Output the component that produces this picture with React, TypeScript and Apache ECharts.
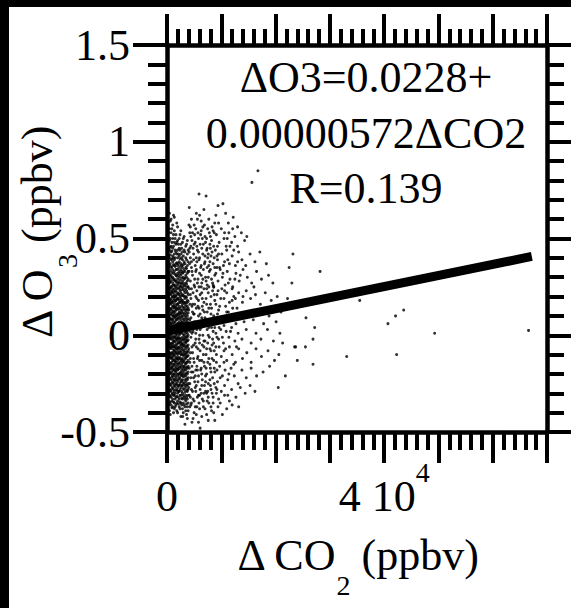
import React, { useEffect, useRef } from "react";
import * as echarts from "echarts";

// ---- axis ticks / labels ----
const yTickValues = [-0.5, 0, 0.5, 1, 1.5];
const yTickLabels = ["-0.5", "0", "0.5", "1", "1.5"];
const xLabelValues = [0, 40000];
const xLabelTexts = ["{a|0}", "{a|4 10}{s|4}"];

// ---- regression ----
const fitIntercept = 0.0228;
const fitSlope = 0.00000572;
const fitCO2Range = [300, 67200];
const annotationLines = ["\u0394O3=0.0228+", "0.00000572\u0394CO2", "R=0.139"];

// ---- dense core of the cloud: ΔCO2 columns (ppbv) and their ΔO3 values ----
const coreCO2 = [150, 450, 750, 1050, 1350, 1650, 1950, 2250, 2550, 2850, 3150, 3450, 3750];
const coreO3 = [
  [0.58, 0.51, 0.47, 0.42, 0.37, 0.33, 0.3, 0.26, 0.23, 0.2, 0.17, 0.15, 0.12, 0.1, 0.07, 0.05, 0.02, 0, -0.03, -0.05, -0.08, -0.1, -0.13, -0.16, -0.18, -0.21, -0.24, -0.27, -0.3, -0.34],
  [0.63, 0.55, 0.49, 0.44, 0.4, 0.36, 0.32, 0.29, 0.27, 0.24, 0.22, 0.19, 0.17, 0.14, 0.12, 0.09, 0.07, 0.04, 0.01, -0.01, -0.04, -0.06, -0.09, -0.11, -0.14, -0.16, -0.19, -0.22, -0.25, -0.28, -0.31, -0.35, -0.39],
  [0.6, 0.53, 0.46, 0.43, 0.39, 0.35, 0.31, 0.28, 0.25, 0.23, 0.21, 0.18, 0.16, 0.13, 0.11, 0.08, 0.06, 0.03, 0.02, 0, -0.02, -0.05, -0.07, -0.1, -0.12, -0.15, -0.17, -0.2, -0.23, -0.26, -0.29, -0.32, -0.36],
  [0.57, 0.5, 0.45, 0.41, 0.38, 0.34, 0.3, 0.27, 0.24, 0.22, 0.2, 0.17, 0.15, 0.12, 0.1, 0.08, 0.05, 0.03, 0.01, -0.02, -0.04, -0.06, -0.09, -0.11, -0.13, -0.16, -0.18, -0.21, -0.24, -0.27, -0.3, -0.33, -0.37],
  [0.61, 0.54, 0.48, 0.42, 0.39, 0.36, 0.33, 0.29, 0.26, 0.24, 0.21, 0.19, 0.16, 0.14, 0.11, 0.09, 0.06, 0.04, 0.01, -0.01, -0.03, -0.06, -0.08, -0.1, -0.13, -0.15, -0.18, -0.2, -0.23, -0.26, -0.29, -0.31, -0.35, -0.38],
  [0.52, 0.47, 0.43, 0.37, 0.34, 0.31, 0.28, 0.25, 0.23, 0.2, 0.18, 0.15, 0.13, 0.1, 0.08, 0.05, 0.03, 0, -0.02, -0.05, -0.07, -0.09, -0.12, -0.14, -0.17, -0.19, -0.22, -0.25, -0.28, -0.32, -0.36],
  [0.56, 0.49, 0.44, 0.4, 0.36, 0.32, 0.29, 0.26, 0.22, 0.19, 0.16, 0.14, 0.11, 0.09, 0.06, 0.04, 0.02, -0.01, -0.03, -0.06, -0.08, -0.11, -0.13, -0.16, -0.18, -0.21, -0.24, -0.27, -0.3, -0.34, -0.4],
  [0.5, 0.45, 0.41, 0.38, 0.33, 0.3, 0.27, 0.24, 0.21, 0.18, 0.15, 0.12, 0.1, 0.07, 0.05, 0.02, 0, -0.02, -0.04, -0.07, -0.09, -0.12, -0.15, -0.17, -0.2, -0.22, -0.26, -0.29, -0.33, -0.37],
  [0.54, 0.47, 0.42, 0.37, 0.34, 0.31, 0.27, 0.25, 0.22, 0.19, 0.17, 0.13, 0.11, 0.08, 0.06, 0.03, 0.01, -0.03, -0.05, -0.08, -0.1, -0.13, -0.16, -0.19, -0.21, -0.24, -0.27, -0.31, -0.35, -0.42],
  [0.48, 0.43, 0.39, 0.35, 0.32, 0.28, 0.25, 0.21, 0.18, 0.16, 0.13, 0.1, 0.07, 0.04, 0.02, -0.01, -0.04, -0.06, -0.09, -0.12, -0.14, -0.17, -0.2, -0.23, -0.26, -0.3, -0.33, -0.38],
  [0.51, 0.44, 0.38, 0.34, 0.29, 0.26, 0.23, 0.2, 0.17, 0.14, 0.11, 0.08, 0.05, 0.03, 0, -0.02, -0.05, -0.08, -0.1, -0.13, -0.16, -0.18, -0.21, -0.25, -0.28, -0.32, -0.36],
  [0.46, 0.4, 0.35, 0.31, 0.27, 0.24, 0.2, 0.17, 0.15, 0.12, 0.09, 0.06, 0.03, 0.01, -0.02, -0.04, -0.07, -0.1, -0.12, -0.15, -0.18, -0.21, -0.24, -0.27, -0.31, -0.34, -0.39],
  [0.49, 0.42, 0.36, 0.32, 0.28, 0.25, 0.22, 0.18, 0.15, 0.13, 0.1, 0.07, 0.04, 0.01, -0.01, -0.03, -0.06, -0.09, -0.11, -0.14, -0.17, -0.2, -0.23, -0.26, -0.29, -0.33, -0.37, -0.43],
];
const coreCO2b = [300, 600, 900, 1200, 1500, 1800, 2100, 2400, 2700, 3000, 3300, 3600, 3900];
const coreO3b = [
  [0.53, 0.45, 0.41, 0.38, 0.35, 0.32, 0.29, 0.265, 0.235, 0.205, 0.175, 0.155, 0.125, 0.095, 0.075, 0.045, 0.015, -0.005, -0.035, -0.055, -0.085, -0.105, -0.135, -0.155, -0.185, -0.205, -0.235, -0.265, -0.295, -0.32, -0.36],
  [0.59, 0.5, 0.455, 0.415, 0.37, 0.335, 0.305, 0.275, 0.245, 0.215, 0.185, 0.165, 0.135, 0.105, 0.085, 0.055, 0.035, 0.005, -0.015, -0.045, -0.065, -0.095, -0.115, -0.145, -0.175, -0.195, -0.225, -0.255, -0.285, -0.315, -0.345, -0.41],
  [0.55, 0.48, 0.435, 0.395, 0.355, 0.325, 0.295, 0.255, 0.225, 0.195, 0.17, 0.14, 0.115, 0.085, 0.065, 0.035, 0.01, -0.01, -0.04, -0.06, -0.09, -0.115, -0.14, -0.165, -0.19, -0.215, -0.245, -0.275, -0.305, -0.34, -0.375],
  [0.62, 0.52, 0.46, 0.4, 0.365, 0.32, 0.285, 0.26, 0.23, 0.2, 0.18, 0.15, 0.125, 0.1, 0.07, 0.045, 0.02, -0.005, -0.03, -0.05, -0.075, -0.1, -0.125, -0.15, -0.175, -0.2, -0.225, -0.25, -0.28, -0.31, -0.345, -0.4],
  [0.5, 0.44, 0.4, 0.355, 0.315, 0.28, 0.255, 0.225, 0.2, 0.175, 0.145, 0.12, 0.095, 0.07, 0.04, 0.015, -0.01, -0.035, -0.06, -0.085, -0.11, -0.135, -0.16, -0.185, -0.21, -0.235, -0.265, -0.3, -0.33, -0.37],
  [0.58, 0.48, 0.42, 0.375, 0.34, 0.305, 0.27, 0.24, 0.21, 0.185, 0.16, 0.135, 0.105, 0.08, 0.055, 0.025, 0.005, -0.02, -0.045, -0.07, -0.095, -0.12, -0.15, -0.175, -0.2, -0.23, -0.255, -0.285, -0.315, -0.35, -0.39],
  [0.47, 0.42, 0.37, 0.345, 0.31, 0.275, 0.245, 0.215, 0.19, 0.165, 0.135, 0.11, 0.085, 0.06, 0.03, 0.01, -0.015, -0.04, -0.065, -0.095, -0.12, -0.145, -0.175, -0.2, -0.23, -0.26, -0.29, -0.32, -0.355],
  [0.52, 0.44, 0.395, 0.355, 0.32, 0.285, 0.255, 0.23, 0.2, 0.17, 0.14, 0.115, 0.09, 0.06, 0.035, 0.01, -0.015, -0.035, -0.06, -0.085, -0.115, -0.14, -0.165, -0.195, -0.225, -0.25, -0.28, -0.31, -0.345, -0.38],
  [0.45, 0.4, 0.36, 0.33, 0.295, 0.265, 0.235, 0.205, 0.18, 0.15, 0.12, 0.095, 0.065, 0.04, 0.015, -0.02, -0.045, -0.07, -0.1, -0.125, -0.15, -0.18, -0.205, -0.235, -0.26, -0.29, -0.325, -0.36],
  [0.5, 0.41, 0.365, 0.325, 0.3, 0.27, 0.24, 0.205, 0.17, 0.145, 0.115, 0.085, 0.06, 0.03, 0.005, -0.025, -0.05, -0.075, -0.105, -0.135, -0.16, -0.19, -0.215, -0.245, -0.275, -0.31, -0.35, -0.4],
  [0.43, 0.37, 0.33, 0.295, 0.255, 0.22, 0.19, 0.16, 0.13, 0.1, 0.07, 0.045, 0.02, -0.01, -0.035, -0.06, -0.09, -0.115, -0.145, -0.17, -0.2, -0.23, -0.26, -0.295, -0.33, -0.37],
  [0.47, 0.39, 0.345, 0.3, 0.265, 0.23, 0.195, 0.165, 0.135, 0.11, 0.08, 0.05, 0.025, -0.005, -0.03, -0.055, -0.085, -0.11, -0.14, -0.165, -0.195, -0.225, -0.255, -0.285, -0.32, -0.355, -0.41],
  [0.44, 0.38, 0.33, 0.29, 0.25, 0.21, 0.175, 0.14, 0.115, 0.085, 0.055, 0.025, 0, -0.025, -0.05, -0.08, -0.105, -0.13, -0.16, -0.19, -0.22, -0.25, -0.28, -0.31, -0.35, -0.39],
];

// ---- main cloud, [ΔCO2 ppbv, ΔO3 ppbv] ----
const cloudPoints = [
  [4100, 0.66], [4500, 0.6], [5000, 0.57], [5400, 0.63], [5900, 0.73], [7200, 0.72], [6300, 0.59], [6800, 0.65], [7700, 0.6], [8300, 0.56], [9000, 0.62], [9400, 0.67], [10300, 0.68], [10800, 0.63], [11300, 0.58], [12200, 0.61], [13000, 0.56], [4300, 0.56], [8800, 0.58], [6000, 0.62],
  [4200, 0.53], [4600, 0.49], [5100, 0.52], [5500, 0.46], [5800, 0.5], [6300, 0.54], [6700, 0.47], [7000, 0.51], [7400, 0.45], [7800, 0.53], [8200, 0.49], [8600, 0.46], [9100, 0.52], [9600, 0.48], [10000, 0.55], [10500, 0.5], [10900, 0.46], [11400, 0.53], [11900, 0.48], [12500, 0.51], [13000, 0.46], [13700, 0.53], [14300, 0.49], [14700, 0.51], [4400, 0.46], [5300, 0.55], [6500, 0.5], [8000, 0.45], [9300, 0.46], [11100, 0.5], [12100, 0.55], [6100, 0.47], [7500, 0.55],
  [4100, 0.43], [4500, 0.38], [4900, 0.42], [5200, 0.36], [5600, 0.44], [5900, 0.39], [6200, 0.35], [6600, 0.42], [7000, 0.38], [7300, 0.44], [7700, 0.36], [8100, 0.41], [8500, 0.37], [8900, 0.44], [9300, 0.39], [9700, 0.35], [10100, 0.42], [10600, 0.38], [11000, 0.44], [11500, 0.37], [12000, 0.41], [12600, 0.36], [13200, 0.43], [13800, 0.39], [14500, 0.36], [15300, 0.42], [16200, 0.38], [17100, 0.43], [4300, 0.4], [5400, 0.4], [6400, 0.45], [7500, 0.4], [8700, 0.4], [10400, 0.36], [12300, 0.44], [18300, 0.37],
  [4000, 0.33], [4300, 0.28], [4700, 0.31], [5000, 0.26], [5400, 0.34], [5700, 0.29], [6000, 0.32], [6400, 0.27], [6700, 0.34], [7100, 0.3], [7400, 0.26], [7800, 0.33], [8200, 0.29], [8600, 0.25], [9000, 0.32], [9400, 0.28], [9800, 0.34], [10200, 0.3], [10700, 0.26], [11100, 0.33], [11600, 0.29], [12100, 0.25], [12700, 0.32], [13300, 0.28], [14000, 0.34], [14800, 0.3], [15600, 0.27], [16500, 0.33], [17400, 0.29], [18700, 0.31], [19500, 0.27], [4500, 0.35], [5900, 0.25], [7600, 0.3], [9200, 0.35], [11300, 0.27], [13500, 0.31], [16000, 0.25],
  [4100, 0.24], [4400, 0.19], [4800, 0.22], [5100, 0.16], [5500, 0.23], [5800, 0.18], [6100, 0.21], [6500, 0.15], [6800, 0.24], [7200, 0.19], [7600, 0.22], [8000, 0.16], [8400, 0.23], [8800, 0.18], [9200, 0.21], [9700, 0.15], [10100, 0.24], [10500, 0.19], [11000, 0.22], [11500, 0.17], [12000, 0.24], [12600, 0.19], [13200, 0.22], [13900, 0.17], [14600, 0.23], [15400, 0.19], [16300, 0.21], [17200, 0.16], [18100, 0.22], [19200, 0.18], [20300, 0.2], [4600, 0.15], [6300, 0.25], [8600, 0.25], [10800, 0.15], [12300, 0.2],
  [4000, 0.13], [4400, 0.09], [4700, 0.12], [5100, 0.07], [5400, 0.14], [5800, 0.1], [6200, 0.06], [6600, 0.13], [7000, 0.09], [7400, 0.12], [7800, 0.06], [8200, 0.14], [8600, 0.1], [9100, 0.07], [9500, 0.13], [10000, 0.09], [10500, 0.05], [11000, 0.12], [11500, 0.08], [12100, 0.14], [12700, 0.06], [13400, 0.11], [14200, 0.07], [15000, 0.12], [15900, 0.08], [16800, 0.13], [17800, 0.06], [18800, 0.1], [20100, 0.07], [21000, 0.12],
  [4100, 0.04], [4400, -0.01], [4800, 0.02], [5200, -0.04], [5500, 0.03], [5900, -0.02], [6300, 0.04], [6600, 0], [7000, -0.03], [7400, 0.03], [7800, -0.01], [8200, 0.04], [8600, -0.04], [9000, 0.01], [9500, -0.02], [9900, 0.03], [10400, -0.04], [10900, 0.02], [11400, -0.01], [11900, 0.04], [12500, -0.03], [13100, 0.01], [13800, -0.02], [14600, 0.03], [15500, -0.04], [16400, 0.01], [17300, -0.02], [18500, 0.03], [19600, -0.03], [20800, 0.01], [21300, -0.04],
  [4000, -0.07], [4300, -0.12], [4700, -0.09], [5000, -0.14], [5400, -0.06], [5700, -0.11], [6100, -0.08], [6400, -0.13], [6800, -0.06], [7200, -0.1], [7500, -0.14], [7900, -0.07], [8300, -0.12], [8700, -0.08], [9100, -0.14], [9600, -0.06], [10000, -0.11], [10500, -0.08], [11000, -0.13], [11500, -0.06], [12000, -0.1], [12600, -0.14], [13200, -0.07], [13900, -0.12], [14700, -0.09], [15500, -0.14], [16400, -0.07], [17400, -0.11], [18600, -0.08], [19800, -0.13],
  [4100, -0.17], [4400, -0.22], [4800, -0.19], [5100, -0.24], [5500, -0.16], [5800, -0.21], [6200, -0.18], [6500, -0.23], [6900, -0.16], [7300, -0.2], [7600, -0.25], [8000, -0.17], [8400, -0.22], [8800, -0.19], [9300, -0.24], [9700, -0.16], [10200, -0.21], [10700, -0.18], [11200, -0.23], [11800, -0.17], [12400, -0.21], [13100, -0.25], [13800, -0.18], [14600, -0.22], [15500, -0.17], [16500, -0.21], [17700, -0.19], [18900, -0.16],
  [4000, -0.27], [4300, -0.32], [4700, -0.29], [5000, -0.34], [5400, -0.26], [5800, -0.31], [6100, -0.28], [6500, -0.33], [6900, -0.26], [7300, -0.3], [7700, -0.35], [8100, -0.28], [8500, -0.32], [9000, -0.27], [9500, -0.33], [10000, -0.29], [10600, -0.26], [11200, -0.31], [11900, -0.28], [12700, -0.32], [13500, -0.27], [14400, -0.3], [15300, -0.26], [16200, -0.29],
  [4200, -0.37], [4600, -0.45], [5000, -0.4], [5500, -0.37], [6100, -0.48], [6400, -0.42], [7000, -0.38], [7600, -0.44], [8200, -0.39], [8800, -0.44], [9400, -0.37], [10200, -0.41], [11000, -0.38], [12000, -0.36], [2900, -0.42], [3300, -0.46], [13200, -0.37],
];

// ---- extra density just right of the core ----
const innerPoints = [
  [4200, 0.45], [4900, 0.39], [5300, 0.33], [5600, 0.27], [6000, 0.4], [6300, 0.31], [6900, 0.37], [7200, 0.28], [7600, 0.42], [8000, 0.34], [8400, 0.27], [8800, 0.31], [9200, 0.41],
  [4300, 0.21], [4700, 0.16], [5100, 0.25], [5500, 0.19], [5900, 0.14], [6400, 0.22], [6800, 0.17], [7300, 0.24], [7700, 0.14], [8100, 0.2], [8500, 0.26], [9000, 0.16], [9400, 0.23],
  [4200, 0.08], [4600, 0.01], [5000, 0.11], [5300, -0.02], [5700, 0.06], [6000, 0.0], [6400, 0.09], [6800, -0.03], [7200, 0.05], [7600, 0.0], [8000, 0.08], [8400, -0.02], [8800, 0.04], [9200, -0.01],
  [4300, -0.09], [4600, -0.16], [4900, -0.05], [5300, -0.18], [5600, -0.12], [6000, -0.04], [6300, -0.17], [6700, -0.1], [7100, -0.21], [7500, -0.04], [7900, -0.15], [8300, -0.05], [8700, -0.17], [9100, -0.1],
  [4200, -0.25], [4500, -0.28], [4900, -0.22], [5300, -0.29], [5700, -0.24], [6000, -0.31], [6400, -0.26], [6800, -0.3], [7100, -0.24], [7500, -0.29], [7900, -0.23], [8300, -0.3], [8700, -0.25], [9100, -0.3],
  [4500, -0.35], [5200, -0.37], [5900, -0.35], [6700, -0.37], [7400, -0.34], [8100, -0.37], [4400, 0.51], [5000, 0.47], [5700, 0.53], [6600, 0.56], [7100, 0.48], [8000, 0.51], [8700, 0.53],
  [4050, 0.57], [4700, 0.53], [5200, 0.48], [5600, 0.6], [6200, 0.52], [6900, 0.57], [7300, 0.5], [7900, 0.47], [8500, 0.54], [9500, 0.58], [10600, 0.53], [11600, 0.46],
  [4150, 0.37], [4600, 0.33], [4800, 0.45], [5100, 0.29], [5500, 0.38], [5800, 0.43], [6300, 0.36], [6600, 0.29], [7000, 0.41], [7400, 0.35], [7900, 0.38], [8300, 0.43], [8800, 0.35], [9500, 0.42], [10300, 0.32], [11200, 0.39], [12500, 0.29], [13000, 0.38],
  [4200, 0.16], [4500, 0.24], [4900, 0.11], [5300, 0.2], [5700, 0.15], [6100, 0.11], [6500, 0.19], [6900, 0.12], [7300, 0.16], [7700, 0.25], [8100, 0.11], [8700, 0.21], [9300, 0.11], [9900, 0.19], [10600, 0.23], [11300, 0.12], [12000, 0.18], [12900, 0.14], [14000, 0.2],
  [4300, 0.02], [4600, -0.06], [4900, 0.06], [5300, 0.01], [5700, -0.07], [6100, 0.03], [6500, -0.05], [6900, 0.07], [7300, -0.07], [7700, 0.04], [8100, -0.08], [8500, 0.02], [9000, -0.06], [9600, 0.04], [10200, -0.01], [10800, -0.07], [11700, 0.02], [12800, -0.06],
  [4200, -0.14], [4500, -0.19], [4900, -0.12], [5200, -0.21], [5600, -0.18], [6000, -0.13], [6400, -0.2], [6800, -0.14], [7200, -0.17], [7700, -0.12], [8100, -0.19], [8600, -0.13], [9200, -0.18], [9800, -0.22], [10500, -0.14], [11400, -0.2], [12300, -0.15],
  [4100, -0.31], [4400, -0.36], [4800, -0.33], [5200, -0.27], [5600, -0.32], [6000, -0.38], [6300, -0.3], [6700, -0.34], [7100, -0.29], [7600, -0.32], [8000, -0.26], [8500, -0.35], [9200, -0.28], [9800, -0.35], [10600, -0.31], [11500, -0.34],
  [4800, -0.43], [5400, -0.41], [5800, -0.45], [7300, -0.41], [8600, -0.4],
];

// ---- isolated points ----
const outlierPoints = [
  [16750, 0.85], [15640, 0.79], [23200, 0.42], [28200, 0.33], [23000, 0.27], [25600, 0.09], [26900, -0.02], [26900, -0.15], [23700, -0.06], [25500, -0.06], [27200, 0.04],
  [35500, 0.18], [40700, 0.06], [42100, 0.1], [43600, 0.13], [49300, 0.01], [66600, 0.025], [33100, -0.11], [42300, -0.1], [22200, 0.19], [24000, -0.13], [21800, -0.21],
  [22500, 0.35], [20500, -0.27], [20600, -0.1], [23500, -0.06],
];

const FONT = "Liberation Serif";

// title pieces with their (Times-metric) widths in px: main 44px, subscript 28px
function subTitle(parts: [string, string, string], widths: [number, number, number], subDrop: number) {
  const total = widths[0] + widths[1] + widths[2];
  const x0 = -total / 2;
  const mk = (text: string, x: number, y: number, size: number) => ({
    type: "text",
    x,
    y,
    style: { text, fill: "#000", fontSize: size, fontFamily: FONT, align: "left", verticalAlign: "middle" },
  });
  return [
    mk(parts[0], x0, 0, 44),
    mk(parts[1], x0 + widths[0], subDrop, 28),
    mk(parts[2], x0 + widths[0] + widths[1], 0, 44),
  ];
}

function buildOption() {
  const scatterData: number[][] = [];
  coreCO2.forEach((c, i) => coreO3[i].forEach((o) => scatterData.push([c, o])));
  coreCO2b.forEach((c, i) => coreO3b[i].forEach((o) => scatterData.push([c, o])));
  cloudPoints.forEach((p) => scatterData.push(p));
  innerPoints.forEach((p) => scatterData.push(p));
  outlierPoints.forEach((p) => scatterData.push(p));

  const fitData = fitCO2Range.map((c) => [c, fitIntercept + fitSlope * c]);

  const axisLine = { show: true, onZero: false, lineStyle: { color: "#000", width: 4.5 } };
  const tickStyle = { color: "#000", width: 4 };

  const xBase = { type: "value", min: 0, max: 70000, interval: 10000, axisLine, splitLine: { show: false } };
  const yBase = { type: "value", min: -0.5, max: 1.5, interval: 0.5, axisLine, splitLine: { show: false } };

  const annotation = annotationLines.map((t, i) => ({
    type: "text",
    x: 366,
    y: [77, 133, 188][i],
    style: { text: t, fill: "#000", fontSize: 44, fontFamily: FONT, align: "center", verticalAlign: "middle" },
  }));

  return {
    animation: false,
    backgroundColor: "#fff",
    textStyle: { fontFamily: FONT },
    grid: { left: 167, top: 45, right: 24, bottom: 176, containLabel: false },
    xAxis: [
      {
        ...xBase,
        position: "bottom",
        axisTick: { show: true, inside: false, length: 31, lineStyle: tickStyle },
        minorTick: { show: true, splitNumber: 5, length: 18, lineStyle: tickStyle },
        axisLabel: {
          show: true,
          margin: 26,
          fontFamily: FONT,
          formatter: (v: number) => {
            const i = xLabelValues.indexOf(Math.round(v));
            return i >= 0 ? xLabelTexts[i] : "";
          },
          rich: {
            a: { fontSize: 44, fontFamily: FONT, color: "#000", lineHeight: 60, verticalAlign: "bottom" },
            s: { fontSize: 28, fontFamily: FONT, color: "#000", lineHeight: 28, verticalAlign: "top" },
          },
        },
      },
      {
        ...xBase,
        position: "top",
        axisTick: { show: true, inside: false, length: 31, lineStyle: tickStyle },
        minorTick: { show: true, splitNumber: 5, length: 16, lineStyle: tickStyle },
        axisLabel: { show: false },
      },
    ],
    yAxis: [
      {
        ...yBase,
        position: "left",
        axisTick: { show: true, inside: false, length: 34, lineStyle: tickStyle },
        minorTick: { show: true, splitNumber: 5, length: 19, lineStyle: tickStyle },
        axisLabel: {
          show: true,
          margin: 37,
          color: "#000",
          fontSize: 44,
          fontFamily: FONT,
          formatter: (v: number) => {
            const i = yTickValues.findIndex((t) => Math.abs(t - v) < 1e-6);
            return i >= 0 ? yTickLabels[i] : "";
          },
        },
      },
      {
        ...yBase,
        position: "right",
        axisTick: { show: true, inside: false, length: 26, lineStyle: tickStyle },
        minorTick: { show: true, splitNumber: 5, length: 17, lineStyle: tickStyle },
        axisLabel: { show: false },
      },
    ],
    series: [
      {
        type: "scatter",
        xAxisIndex: 0,
        yAxisIndex: 0,
        data: scatterData,
        symbol: "circle",
        symbolSize: 3,
        itemStyle: { color: "#000" },
        silent: true,
        z: 2,
      },
      {
        type: "line",
        xAxisIndex: 0,
        yAxisIndex: 0,
        data: fitData,
        symbol: "none",
        lineStyle: { color: "#000", width: 9, cap: "butt" },
        silent: true,
        z: 3,
      },
    ],
    graphic: [
      { type: "rect", shape: { x: 0, y: 0, width: 571, height: 7 }, style: { fill: "#000" }, silent: true },
      { type: "rect", shape: { x: 0, y: 0, width: 9, height: 608 }, style: { fill: "#000" }, silent: true },
      ...annotation,
      { type: "group", x: 358, y: 555, children: subTitle(["\u0394 CO", "2", " (ppbv)"], [99, 14, 128], 30) },
      { type: "group", x: 37, y: 232, rotation: Math.PI / 2, children: subTitle(["\u0394 O", "3", " (ppbv)"], [70, 14, 128], 30) },
    ],
  };
}

const forceSerifCss = '.chart-root svg text, .chart-root svg tspan { font-family: "Liberation Serif", "Times New Roman", serif !important; }';

export default function App() {
  const ref = useRef<HTMLDivElement>(null);
  useEffect(() => {
    if (!ref.current) return;
    const chart = echarts.init(ref.current, null, { renderer: "svg" });
    chart.setOption(buildOption() as any);
    let alive = true;
    const redraw = () => {
      if (!alive) return;
      chart.setOption(buildOption() as any, true);
    };
    const t = setTimeout(redraw, 120);
    return () => {
      alive = false;
      clearTimeout(t);
      chart.dispose();
    };
  }, []);
  return (
    <>
      <style>{forceSerifCss}</style>
      <div
        ref={ref}
        className="chart-root"
        style={{ position: "absolute", left: 0, top: 0, width: 571, height: 608 }}
      />
    </>
  );
}
